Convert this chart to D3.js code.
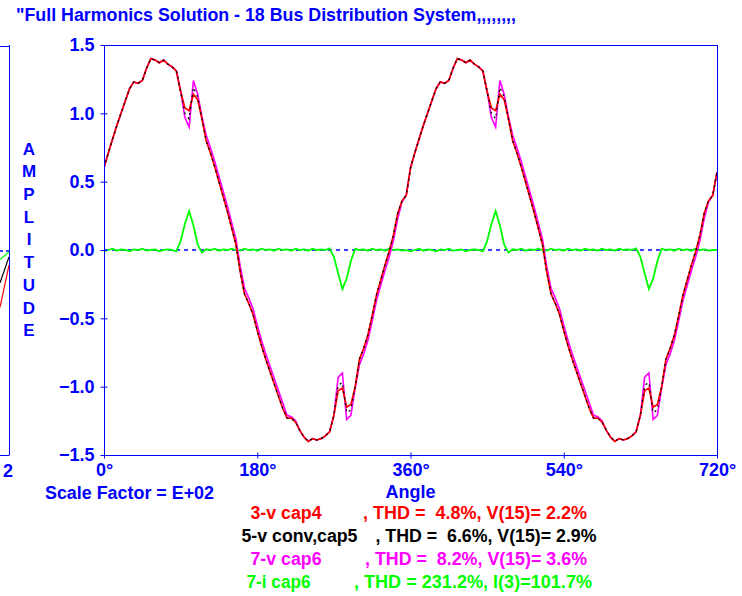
<!DOCTYPE html>
<html>
<head>
<meta charset="utf-8">
<script src="https://cdn.jsdelivr.net/npm/d3@7/dist/d3.min.js"></script>
<style>
  body { margin: 0; background: #ffffff; }
  svg { display: block; font-family: "Liberation Sans", Arial, sans-serif; font-weight: bold; }
  text { white-space: pre; }
</style>
</head>
<body>
<svg id="chart" width="742" height="596"></svg>
<script>
// Sample spacing of the waveforms, in electrical degrees (two cycles, 0..720)
const angleStep = 5;

// Bus voltage at capacitor 4 (per unit)
const vCap4 = [
  0.60, 0.71, 0.81, 0.91, 1.00, 1.09, 1.18, 1.23, 1.22, 1.24,
  1.33, 1.40, 1.39, 1.37, 1.39, 1.36, 1.34, 1.31, 1.16, 1.04,
  1.02, 1.14, 1.10, 0.96, 0.80, 0.71, 0.61, 0.50, 0.39, 0.28,
  0.16, 0.04, -0.16, -0.32, -0.39, -0.47, -0.59, -0.70, -0.80, -0.89,
  -0.98, -1.07, -1.16, -1.23, -1.23, -1.26, -1.32, -1.37, -1.40, -1.38,
  -1.39, -1.38, -1.36, -1.33, -1.21, -1.03, -1.01, -1.15, -1.13, -1.00,
  -0.80, -0.72, -0.62, -0.48, -0.33, -0.22, -0.11, -0.01, 0.11, 0.27,
  0.36, 0.40,
  0.60, 0.71, 0.81, 0.91, 1.00, 1.09, 1.18, 1.23, 1.22, 1.24,
  1.33, 1.40, 1.39, 1.37, 1.39, 1.36, 1.34, 1.31, 1.16, 1.04,
  1.02, 1.14, 1.10, 0.96, 0.80, 0.71, 0.61, 0.50, 0.39, 0.28,
  0.16, 0.04, -0.16, -0.32, -0.39, -0.47, -0.59, -0.70, -0.80, -0.89,
  -0.98, -1.07, -1.16, -1.23, -1.23, -1.26, -1.32, -1.37, -1.40, -1.38,
  -1.39, -1.38, -1.36, -1.33, -1.21, -1.03, -1.01, -1.15, -1.13, -1.00,
  -0.80, -0.72, -0.62, -0.48, -0.33, -0.22, -0.11, -0.01, 0.11, 0.27,
  0.36, 0.40, 0.57
];

// Voltage at the converter / capacitor 5 bus
const vConvCap5 = [
  0.60, 0.71, 0.81, 0.91, 1.00, 1.09, 1.18, 1.23, 1.22, 1.24,
  1.33, 1.40, 1.39, 1.37, 1.39, 1.36, 1.34, 1.31, 1.16, 1.00,
  0.96, 1.19, 1.12, 0.96, 0.80, 0.71, 0.61, 0.50, 0.39, 0.28,
  0.16, 0.04, -0.16, -0.32, -0.39, -0.47, -0.59, -0.70, -0.80, -0.89,
  -0.98, -1.07, -1.16, -1.23, -1.23, -1.26, -1.32, -1.37, -1.40, -1.38,
  -1.39, -1.38, -1.36, -1.33, -1.21, -0.99, -0.97, -1.19, -1.17, -1.00,
  -0.80, -0.72, -0.62, -0.48, -0.33, -0.22, -0.11, -0.01, 0.11, 0.27,
  0.36, 0.40,
  0.60, 0.71, 0.81, 0.91, 1.00, 1.09, 1.18, 1.23, 1.22, 1.24,
  1.33, 1.40, 1.39, 1.37, 1.39, 1.36, 1.34, 1.31, 1.16, 1.00,
  0.96, 1.19, 1.12, 0.96, 0.80, 0.71, 0.61, 0.50, 0.39, 0.28,
  0.16, 0.04, -0.16, -0.32, -0.39, -0.47, -0.59, -0.70, -0.80, -0.89,
  -0.98, -1.07, -1.16, -1.23, -1.23, -1.26, -1.32, -1.37, -1.40, -1.38,
  -1.39, -1.38, -1.36, -1.33, -1.21, -0.99, -0.97, -1.19, -1.17, -1.00,
  -0.80, -0.72, -0.62, -0.48, -0.33, -0.22, -0.11, -0.01, 0.11, 0.27,
  0.36, 0.40, 0.57
];

// Voltage at capacitor 6
const vCap6 = [
  0.60, 0.71, 0.81, 0.91, 1.00, 1.09, 1.18, 1.23, 1.22, 1.24,
  1.33, 1.40, 1.39, 1.37, 1.39, 1.36, 1.34, 1.31, 1.16, 0.97,
  0.90, 1.24, 1.14, 0.98, 0.84, 0.75, 0.65, 0.54, 0.43, 0.32,
  0.20, 0.08, -0.12, -0.28, -0.35, -0.43, -0.55, -0.66, -0.76, -0.85,
  -0.94, -1.03, -1.12, -1.21, -1.22, -1.25, -1.32, -1.37, -1.40, -1.38,
  -1.39, -1.38, -1.36, -1.33, -1.21, -0.93, -0.90, -1.24, -1.21, -1.01,
  -0.84, -0.76, -0.66, -0.52, -0.37, -0.26, -0.15, -0.05, 0.07, 0.23,
  0.35, 0.40,
  0.60, 0.71, 0.81, 0.91, 1.00, 1.09, 1.18, 1.23, 1.22, 1.24,
  1.33, 1.40, 1.39, 1.37, 1.39, 1.36, 1.34, 1.31, 1.16, 0.97,
  0.90, 1.24, 1.14, 0.98, 0.84, 0.75, 0.65, 0.54, 0.43, 0.32,
  0.20, 0.08, -0.12, -0.28, -0.35, -0.43, -0.55, -0.66, -0.76, -0.85,
  -0.94, -1.03, -1.12, -1.21, -1.22, -1.25, -1.32, -1.37, -1.40, -1.38,
  -1.39, -1.38, -1.36, -1.33, -1.21, -0.93, -0.90, -1.24, -1.21, -1.01,
  -0.84, -0.76, -0.66, -0.52, -0.37, -0.26, -0.15, -0.05, 0.07, 0.23,
  0.35, 0.40, 0.57
];

// Current into capacitor 6
const iCap6 = [
  -0.010, 0.000, 0.010, -0.005, 0.005, 0.000, -0.010, 0.005, 0.000, 0.010,
  -0.005, 0.000, 0.005, -0.010, 0.000, 0.005, 0.000, -0.010, 0.065, 0.190,
  0.285, 0.180, 0.040, -0.020, 0.005, 0.000, 0.010, -0.005, 0.005, 0.000,
  0.010, 0.000, -0.005, 0.010, 0.000, 0.005, -0.005, 0.010, 0.000, 0.005,
  -0.005, 0.010, 0.000, 0.005, -0.005, 0.010, 0.000, 0.005, -0.005, 0.010,
  0.000, 0.005, 0.000, 0.012, -0.050, -0.170, -0.285, -0.210, -0.080, 0.010,
  0.000, 0.005, -0.005, 0.010, 0.000, 0.005, -0.005, 0.010, 0.000, 0.005,
  -0.005, 0.000,
  -0.010, 0.000, 0.010, -0.005, 0.005, 0.000, -0.010, 0.005, 0.000, 0.010,
  -0.005, 0.000, 0.005, -0.010, 0.000, 0.005, 0.000, -0.010, 0.065, 0.190,
  0.285, 0.180, 0.040, -0.020, 0.005, 0.000, 0.010, -0.005, 0.005, 0.000,
  0.010, 0.000, -0.005, 0.010, 0.000, 0.005, -0.005, 0.010, 0.000, 0.005,
  -0.005, 0.010, 0.000, 0.005, -0.005, 0.010, 0.000, 0.005, -0.005, 0.010,
  0.000, 0.005, 0.000, 0.012, -0.050, -0.170, -0.285, -0.210, -0.080, 0.010,
  0.000, 0.005, -0.005, 0.010, 0.000, 0.005, -0.005, 0.010, 0.000, 0.005,
  -0.005, 0.000, 0.000
];

// Tail end of the neighbouring panel, visible at the left edge
const prevPanelRed = [-0.42, -0.11];
const prevPanelBlack = [-0.24, -0.05];
const prevPanelGreen = [-0.07, -0.015];

const yTicks = [-1.5, -1.0, -0.5, 0.0, 0.5, 1.0, 1.5];
const xTicks = [0, 180, 360, 540, 720];

const legendNames = ["3-v cap4", "5-v conv,cap5", "7-v cap6", "7-i cap6"];
const legendStats = [
  ", THD =  4.8%, V(15)= 2.2%",
  ", THD =  6.6%, V(15)= 2.9%",
  ", THD =  8.2%, V(15)= 3.6%",
  ", THD = 231.2%, I(3)=101.7%"
];

const BLUE = "#0000ff";
const seriesColors = ["#ff0000", "#000000", "#ff00ff", "#00ff00"];

const svg = d3.select("#chart");
const plot = { left: 104, right: 717, top: 45, bottom: 455 };

const angles = d3.range(0, 720 + angleStep / 2, angleStep);
const x = d3.scaleLinear().domain([0, 720]).range([plot.left, plot.right]);
const y = d3.scaleLinear().domain([-1.5, 1.5]).range([plot.bottom, plot.top]);

// Title
svg.append("text")
  .attr("x", 16).attr("y", 21)
  .attr("fill", BLUE).attr("font-size", 18)
  .attr("textLength", 500).attr("lengthAdjust", "spacingAndGlyphs")
  .text("\"Full Harmonics Solution - 18 Bus Distribution System,,,,,,,,");

// Neighbouring panel edge
const px = d3.scaleLinear().domain([0, 1]).range([0, 9]);
svg.append("line").attr("x1", 9.5).attr("x2", 9.5).attr("y1", plot.top).attr("y2", plot.bottom)
  .attr("stroke", BLUE).attr("stroke-width", 1);
svg.append("line").attr("x1", 0).attr("x2", 9.5).attr("y1", plot.top + 1.5).attr("y2", plot.top + 1.5)
  .attr("stroke", BLUE);
svg.append("line").attr("x1", 0).attr("x2", 9.5).attr("y1", plot.bottom + 0.5).attr("y2", plot.bottom + 0.5)
  .attr("stroke", BLUE);
svg.append("line").attr("x1", 0).attr("x2", 9).attr("y1", y(0) + 1).attr("y2", y(0) + 1)
  .attr("stroke", BLUE).attr("stroke-width", 1.4).attr("stroke-dasharray", "3,3");
const prevLine = d3.line().x((d, i) => px(i)).y(d => y(d));
[[prevPanelRed, "#ff0000"], [prevPanelBlack, "#000000"], [prevPanelGreen, "#00ff00"]].forEach(([vals, c]) => {
  svg.append("path").attr("d", prevLine(vals)).attr("fill", "none").attr("stroke", c).attr("stroke-width", 1.2);
});
svg.append("text").attr("x", 13).attr("y", 477).attr("text-anchor", "end")
  .attr("fill", BLUE).attr("font-size", 18).text("2");

// Vertical axis title
svg.append("g").selectAll("text")
  .data("AMPLITUDE".split(""))
  .join("text")
  .attr("x", 29).attr("y", (d, i) => 148.5 + i * 22.7)
  .attr("dy", "0.36em").attr("text-anchor", "middle")
  .attr("fill", BLUE).attr("font-size", 17)
  .text(d => d);

// Zero reference
svg.append("line")
  .attr("x1", plot.left).attr("x2", plot.right)
  .attr("y1", y(0)).attr("y2", y(0))
  .attr("stroke", BLUE).attr("stroke-width", 1.4).attr("stroke-dasharray", "4,4");

// Waveforms
svg.append("clipPath").attr("id", "plotClip").append("rect")
  .attr("x", plot.left).attr("y", plot.top).attr("width", plot.right - plot.left).attr("height", plot.bottom - plot.top);
const line = d3.line().x((d, i) => x(angles[i])).y(d => y(d));
const g = svg.append("g").attr("clip-path", "url(#plotClip)");
g.append("path").attr("d", line(iCap6)).attr("fill", "none").attr("stroke", seriesColors[3]).attr("stroke-width", 1.8);
g.append("path").attr("d", line(vCap6)).attr("fill", "none").attr("stroke", seriesColors[2]).attr("stroke-width", 1.6);
g.append("path").attr("d", line(vCap4)).attr("fill", "none").attr("stroke", seriesColors[0]).attr("stroke-width", 1.7);
g.append("path").attr("d", line(vConvCap5)).attr("fill", "none").attr("stroke", seriesColors[1])
  .attr("stroke-width", 1.3).attr("stroke-dasharray", "2,4");

// Frame
svg.append("rect")
  .attr("x", plot.left + 0.5).attr("y", plot.top + 0.5)
  .attr("width", plot.right - plot.left).attr("height", plot.bottom - plot.top)
  .attr("fill", "none").attr("stroke", BLUE).attr("stroke-width", 1);

// Y axis
const yAxis = svg.append("g").attr("transform", `translate(${plot.left + 0.5},0)`)
  .call(d3.axisLeft(y).tickValues(yTicks).tickFormat(d3.format(".1f")).tickSizeInner(4).tickSizeOuter(0).tickPadding(6));
yAxis.select(".domain").remove();
yAxis.selectAll(".tick line").attr("x1", 3).attr("stroke", BLUE);
yAxis.selectAll(".tick text").attr("fill", BLUE).attr("font-size", 18)
  .attr("font-family", "Liberation Sans, Arial, sans-serif").attr("font-weight", "bold");

// X axis
const xAxis = svg.append("g").attr("transform", `translate(0,${plot.bottom + 0.5})`)
  .call(d3.axisBottom(x).tickValues(xTicks).tickFormat(d => d + "°").tickSizeInner(3).tickSizeOuter(0).tickPadding(5));
xAxis.select(".domain").remove();
xAxis.selectAll(".tick line").attr("y1", -3).attr("stroke", BLUE);
xAxis.selectAll(".tick text").attr("fill", BLUE).attr("font-size", 18)
  .attr("font-family", "Liberation Sans, Arial, sans-serif").attr("font-weight", "bold");

svg.append("text").attr("x", 45).attr("y", 499)
  .attr("fill", BLUE).attr("font-size", 18)
  .attr("textLength", 169).attr("lengthAdjust", "spacingAndGlyphs")
  .text("Scale Factor = E+02");
svg.append("text").attr("x", x(360)).attr("y", 498).attr("text-anchor", "middle")
  .attr("fill", BLUE).attr("font-size", 18).text("Angle");

// Legend with harmonic summary
const nameX = [250.5, 241.5, 250.5, 246.5];
const nameW = [71, 116, 71, 64];
const statX = [363, 375.5, 365, 354];
const statW = [224, 221, 222, 238];
const legendColors = ["#ff0000", "#000000", "#ff00ff", "#00ff00"];
const rows = svg.append("g").selectAll("g").data(legendNames).join("g")
  .attr("transform", (d, i) => `translate(0,${519 + i * 23})`);
rows.append("text").attr("x", (d, i) => nameX[i])
  .attr("fill", (d, i) => legendColors[i]).attr("font-size", 18)
  .attr("textLength", (d, i) => nameW[i]).attr("lengthAdjust", "spacingAndGlyphs")
  .text(d => d);
rows.append("text").attr("x", (d, i) => statX[i])
  .attr("fill", (d, i) => legendColors[i]).attr("font-size", 18)
  .attr("textLength", (d, i) => statW[i]).attr("lengthAdjust", "spacingAndGlyphs")
  .text((d, i) => legendStats[i]);
</script>
</body>
</html>
